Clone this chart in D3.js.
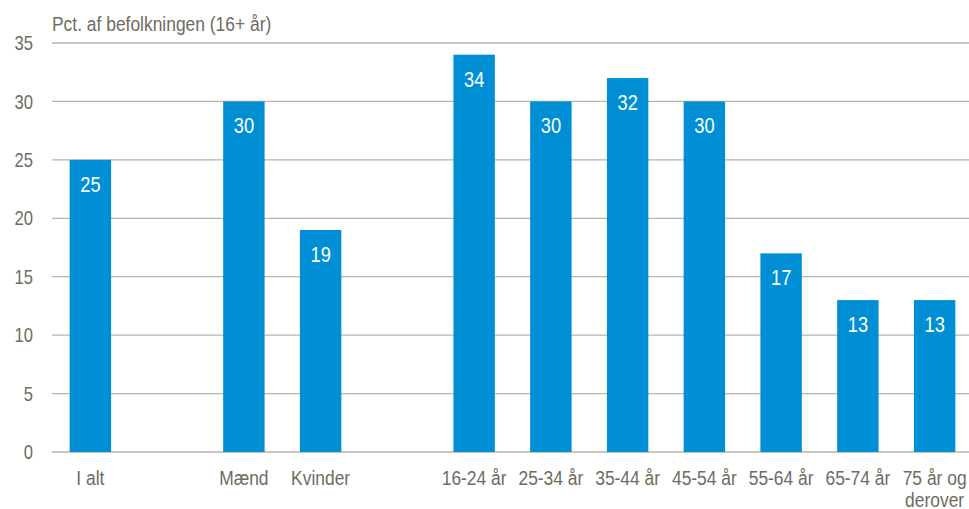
<!DOCTYPE html>
<html>
<head>
<meta charset="utf-8">
<script src="https://cdn.jsdelivr.net/npm/d3@7"></script>
<style>
  body { margin: 0; background: #fff; }
  text { font-family: "Liberation Sans", Arial, sans-serif; fill: #6e6c5f; }
</style>
</head>
<body>
<div id="chart"></div>
<script>
// Share of population (16+) by group; empty slots are gaps between groups.
const categories = ["I alt", "gap1", "Mænd", "Kvinder", "gap2", "16-24 år", "25-34 år", "35-44 år", "45-54 år", "55-64 år", "65-74 år", "75 år og derover"];
const values = [25, null, 30, 19, null, 34, 30, 32, 30, 17, 13, 13];
const yTicks = [0, 5, 10, 15, 20, 25, 30, 35];
const yTitle = "Pct. af befolkningen (16+ år)";

const width = 969, height = 509;
const plotL = 52, plotR = 973, plotT = 43, plotB = 452;
const squeeze = 0.83; // no narrow font installed: condense glyphs horizontally

const svg = d3.select("#chart").append("svg")
  .attr("width", width).attr("height", height)
  .attr("viewBox", `0 0 ${width} ${height}`);

const x = d3.scaleBand(categories, [plotL, plotR]).paddingInner(0.46).paddingOuter(0.23);
const y = d3.scaleLinear([0, 35], [plotB, plotT]);
const cx = (c) => x(c) + x.bandwidth() / 2;
const place = (fx, fy) => (d, i) => `translate(${fx(d, i)},${fy(d, i)}) scale(${squeeze},1)`;

// Gridlines + y labels
svg.append("g").selectAll("line").data(yTicks).join("line")
  .attr("x1", plotL).attr("x2", width)
  .attr("y1", (d) => y(d)).attr("y2", (d) => y(d))
  .attr("stroke", "#b8b6a7").attr("stroke-width", 1.3);
svg.append("g").selectAll("text").data(yTicks).join("text")
  .attr("transform", place(() => 33, (d) => y(d)))
  .attr("dy", "0.36em")
  .attr("text-anchor", "end").style("font-size", "20px")
  .text((d) => d);

svg.append("text").attr("transform", `translate(52,31) scale(${squeeze},1)`)
  .style("font-size", "21px").text(yTitle);

const rows = categories.map((c, i) => ({ c, v: values[i] })).filter((d) => d.v != null);

svg.append("g").selectAll("rect").data(rows).join("rect")
  .attr("x", (d) => x(d.c)).attr("width", x.bandwidth())
  .attr("y", (d) => y(d.v)).attr("height", (d) => y(0) - y(d.v))
  .attr("fill", "#008fd5");

svg.append("g").selectAll("text").data(rows).join("text")
  .attr("transform", place((d) => cx(d.c), (d) => y(d.v) + 32))
  .attr("text-anchor", "middle").style("font-size", "22px").style("fill", "#fff")
  .text((d) => d.v);

// Category labels (wrap "75 år og derover")
const lab = svg.append("g").selectAll("text").data(rows).join("text")
  .attr("transform", place((d) => cx(d.c), () => 485))
  .attr("text-anchor", "middle").style("font-size", "21px");
lab.each(function (d) {
  const lines = d.c === "75 år og derover" ? ["75 år og", "derover"] : [d.c];
  d3.select(this).selectAll("tspan").data(lines).join("tspan")
    .attr("x", 0)
    .attr("dy", (_, i) => (i ? 22 : 0))
    .text((t) => t);
});
</script>
</body>
</html>
